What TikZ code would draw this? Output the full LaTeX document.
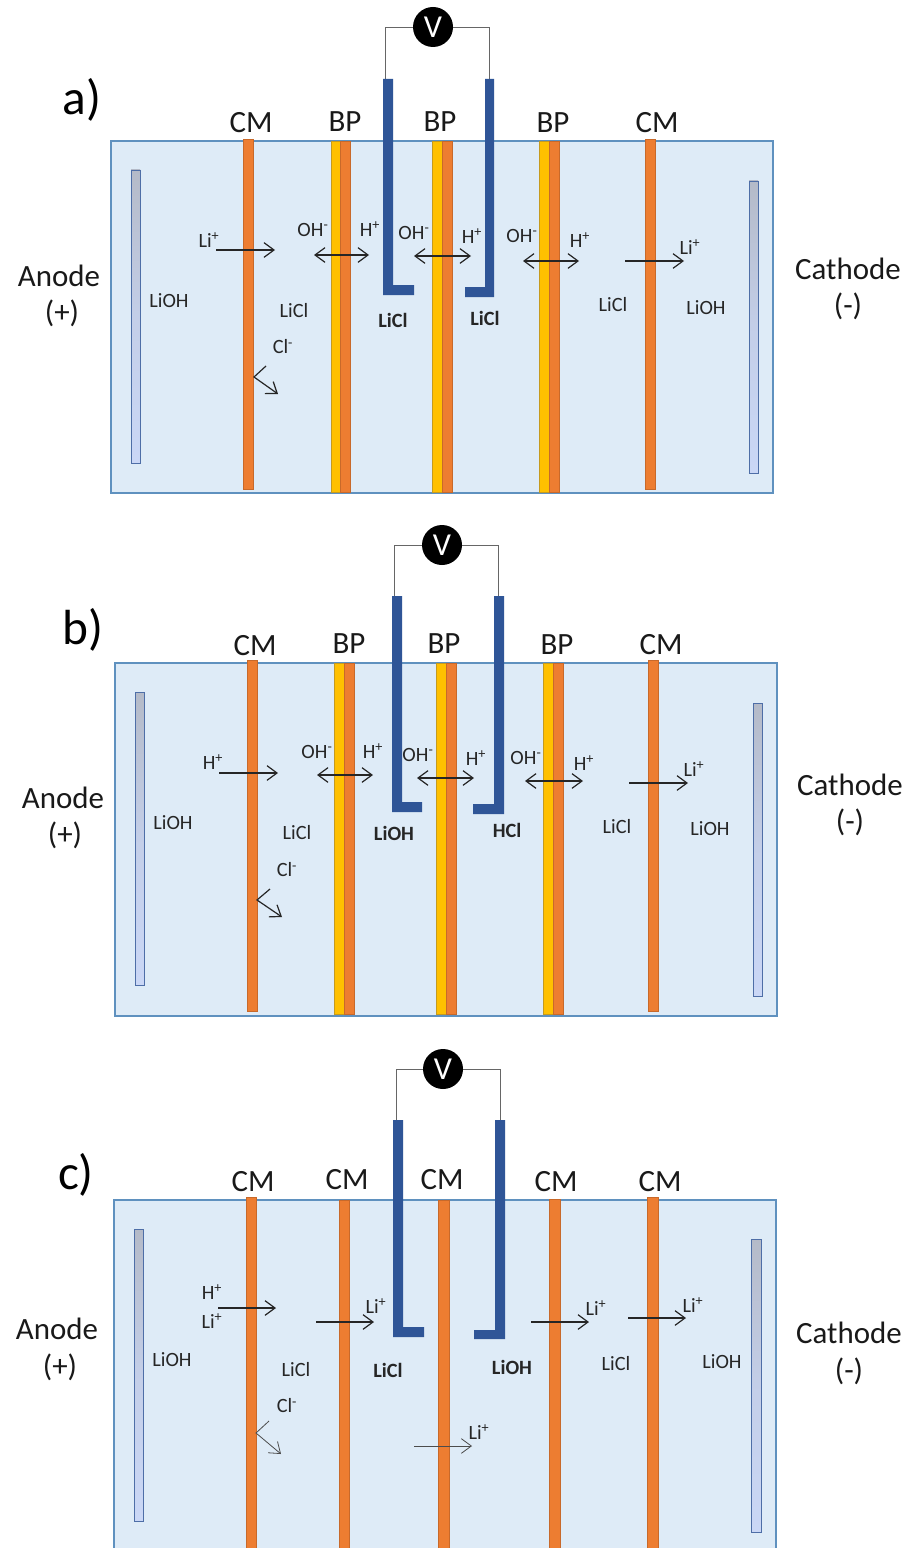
\documentclass[tikz,border=0pt]{standalone}
\usepackage{fontspec}
\setmainfont{Carlito}
\usetikzlibrary{arrows.meta}
\definecolor{bath}{HTML}{DEEBF7}
\definecolor{bathedge}{HTML}{5F91BF}
\definecolor{orangem}{HTML}{ED7D31}
\definecolor{orangeedge}{HTML}{C8692A}
\definecolor{yellowm}{HTML}{FFC000}
\definecolor{yellowedge}{HTML}{C59A1E}
\definecolor{elec}{HTML}{2F5597}
\definecolor{platetop}{HTML}{B4BAC8}
\definecolor{platebot}{HTML}{CAD7F6}
\newcounter{tn}
\newcounter{an}
\tikzset{
  bathbox/.style={fill=bath,draw=bathedge,line width=0.9pt},
  orangebar/.style={fill=orangem,draw=orangeedge,line width=0.6pt},
  yellowbar/.style={fill=yellowm,draw=yellowedge,line width=0.6pt},
  electrode/.style={fill=elec,draw=none},
  plate/.style={top color=platetop,bottom color=platebot,middle color=platebot!70!platetop,draw=elec!85!white,line width=0.7pt},
  wire/.style={draw=black!60,line width=0.7pt},
  meter/.style={circle,fill=black,text=white,minimum size=30pt,inner sep=0pt,font=\fontsize{24}{24}\selectfont},
  ionarrow/.style={-{Straight Barb[length=7.5pt,width=11pt,line width=0.9pt]},line width=0.9pt,draw=black!85},
  biarrow/.style={{Straight Barb[length=7.5pt,width=11pt,line width=0.9pt]}-{Straight Barb[length=7.5pt,width=11pt,line width=0.9pt]},line width=0.9pt,draw=black!85},
  thinarrow/.style={-{Straight Barb[length=7.5pt,width=11pt,line width=0.6pt]},line width=0.6pt,draw=black!70},
  smalltext/.style={inner sep=0pt,text=black!85,font=\fontsize{15.2}{15.2}\selectfont},
  boldtext/.style={inner sep=0pt,text=black!85,font=\fontsize{15.2}{15.2}\selectfont\bfseries},
  tagtext/.style={inner sep=0pt,text=black!90,font=\fontsize{23.2}{23.2}\selectfont},
  paneltext/.style={inner sep=0pt,text=black,font=\fontsize{37}{37}\selectfont},
}
% text node with an automatic name
\newcommand{\lab}[4]{\stepcounter{tn}\node[#1] (t\arabic{tn}) at (#2,#3) {#4};}
% straight arrow between two named coordinates
\newcommand{\arr}[5]{\stepcounter{an}%
  \coordinate (as\arabic{an}) at (#2,#3);\coordinate (ae\arabic{an}) at (#4,#5);%
  \draw[#1] (as\arabic{an}) -- (ae\arabic{an});}
% bent arrow through a corner
\newcommand{\bentarr}[7]{\stepcounter{an}%
  \coordinate (as\arabic{an}) at (#2,#3);\coordinate (ac\arabic{an}) at (#4,#5);\coordinate (ae\arabic{an}) at (#6,#7);%
  \draw[#1] (as\arabic{an}) -- (ac\arabic{an}) -- (ae\arabic{an});}
% voltmeter with two wires
\newcommand{\volt}[5]{% name, cx, cy, left x, right x
  \coordinate (#1L) at (#4,#3+54);\coordinate (#1R) at (#5,#3+54);
  \node[meter] (#1) at (#2,#3) {V};
  \draw[wire] (#1.west) -| (#1L);
  \draw[wire] (#1.east) -| (#1R);}
\newcommand{\Lip}{Li\textsuperscript{+}}
\newcommand{\Hp}{H\textsuperscript{+}}
\newcommand{\OHm}{OH\textsuperscript{-}}
\newcommand{\Clm}{Cl\textsuperscript{-}}
\begin{document}
\begin{tikzpicture}[x=0.75pt,y=-0.75pt]
\clip (0,0) rectangle (910,1548);
\fill[white] (0,0) rectangle (910,1548);

%% ---------- panel a ----------
\draw[bathbox] (111,141) rectangle (773,493);
\shadedraw[plate] (131,170) rectangle (140,463);
\shadedraw[plate] (749,181) rectangle (758,473);
\draw[orangebar] (243,139) rectangle (253,489);
\draw[yellowbar] (331,141) rectangle (340,492);
\draw[orangebar] (340,141) rectangle (350,492);
\draw[yellowbar] (432,141) rectangle (442,492);
\draw[orangebar] (442,141) rectangle (452,492);
\draw[yellowbar] (539,141) rectangle (549,492);
\draw[orangebar] (549,141) rectangle (559,492);
\draw[orangebar] (645,139) rectangle (655,489);
\volt{Va}{433}{27}{385.5}{489.5}
\fill[electrode] (383,79) -- (393,79) -- (393,285) -- (414,285) -- (414,295) -- (383,295) -- cycle;
\fill[electrode] (485,79) -- (494,79) -- (494,297) -- (465,297) -- (465,287) -- (485,287) -- cycle;
\arr{ionarrow}{216}{250}{275}{250}
\arr{biarrow}{314}{255}{369}{255}
\arr{biarrow}{414}{256}{471}{256}
\arr{biarrow}{523}{261}{579}{261}
\arr{ionarrow}{625}{261}{684}{261}
\bentarr{ionarrow}{266}{366}{254}{377}{278}{394}
\lab{smalltext}{209}{240}{\Lip}
\lab{smalltext}{313}{230}{\OHm}
\lab{smalltext}{370}{229}{\Hp}
\lab{smalltext}{414}{233}{\OHm}
\lab{smalltext}{472}{236}{\Hp}
\lab{smalltext}{522}{236}{\OHm}
\lab{smalltext}{580}{240}{\Hp}
\lab{smalltext}{690}{247}{\Lip}
\lab{smalltext}{169}{301}{LiOH}
\lab{smalltext}{294}{311}{LiCl}
\lab{smalltext}{283}{347}{\Clm}
\lab{boldtext}{393}{320}{LiCl}
\lab{boldtext}{485}{318}{LiCl}
\lab{smalltext}{613}{305}{LiCl}
\lab{smalltext}{706}{308}{LiOH}
\lab{tagtext}{251}{123}{CM}
\lab{tagtext}{345}{122}{BP}
\lab{tagtext}{440}{122}{BP}
\lab{tagtext}{553}{123}{BP}
\lab{tagtext}{657}{123}{CM}
\lab{tagtext}{59}{276}{Anode}
\lab{tagtext}{62}{313}{(+)}
\lab{tagtext}{848}{269}{Cathode}
\lab{tagtext}{848}{306}{(-)}
\lab{paneltext}{82}{100}{a)}

%% ---------- panel b ----------
\draw[bathbox] (115,663) rectangle (777,1016);
\shadedraw[plate] (135,692) rectangle (144,985);
\shadedraw[plate] (753,703) rectangle (762,996);
\draw[orangebar] (247,660) rectangle (257,1011);
\draw[yellowbar] (334,663) rectangle (344,1014);
\draw[orangebar] (344,663) rectangle (354,1014);
\draw[yellowbar] (436,663) rectangle (446,1014);
\draw[orangebar] (446,663) rectangle (456,1014);
\draw[yellowbar] (543,663) rectangle (553,1014);
\draw[orangebar] (553,663) rectangle (563,1014);
\draw[orangebar] (648,660) rectangle (658,1011);
\volt{Vb}{442}{545}{394}{498}
\fill[electrode] (392,596) -- (402,596) -- (402,802) -- (422,802) -- (422,812) -- (392,812) -- cycle;
\fill[electrode] (494,596) -- (504,596) -- (504,814) -- (473,814) -- (473,804) -- (494,804) -- cycle;
\arr{ionarrow}{219}{773}{278}{773}
\arr{biarrow}{317}{775}{373}{775}
\arr{biarrow}{417}{778}{474}{778}
\arr{biarrow}{525}{781}{583}{781}
\arr{ionarrow}{629}{783}{688}{783}
\bentarr{ionarrow}{270}{889}{257}{900}{282}{917}
\lab{smalltext}{213}{762}{\Hp}
\lab{smalltext}{317}{752}{\OHm}
\lab{smalltext}{373}{751}{\Hp}
\lab{smalltext}{418}{755}{\OHm}
\lab{smalltext}{476}{758}{\Hp}
\lab{smalltext}{526}{758}{\OHm}
\lab{smalltext}{584}{763}{\Hp}
\lab{smalltext}{694}{769}{\Lip}
\lab{smalltext}{173}{823}{LiOH}
\lab{smalltext}{297}{833}{LiCl}
\lab{smalltext}{287}{870}{\Clm}
\lab{boldtext}{394}{833}{LiOH}
\lab{boldtext}{507}{830}{HCl}
\lab{smalltext}{617}{827}{LiCl}
\lab{smalltext}{710}{829}{LiOH}
\lab{tagtext}{255}{646}{CM}
\lab{tagtext}{349}{644}{BP}
\lab{tagtext}{444}{644}{BP}
\lab{tagtext}{557}{645}{BP}
\lab{tagtext}{661}{645}{CM}
\lab{tagtext}{63}{798}{Anode}
\lab{tagtext}{65}{835}{(+)}
\lab{tagtext}{850}{785}{Cathode}
\lab{tagtext}{850}{822}{(-)}
\lab{paneltext}{83}{630}{b)}

%% ---------- panel c ----------
\draw[bathbox] (114,1200) rectangle (776,1570);
\shadedraw[plate] (134,1229) rectangle (143,1521);
\shadedraw[plate] (751,1239) rectangle (761,1532);
\draw[orangebar] (246,1197) rectangle (256,1570);
\draw[orangebar] (339,1200) rectangle (349,1570);
\draw[orangebar] (438,1200) rectangle (449,1570);
\draw[orangebar] (549,1199) rectangle (560,1570);
\draw[orangebar] (647,1197) rectangle (658,1570);
\volt{Vc}{443}{1069}{396}{500}
\fill[electrode] (393,1120) -- (403,1120) -- (403,1327) -- (424,1327) -- (424,1337) -- (393,1337) -- cycle;
\fill[electrode] (495,1120) -- (505,1120) -- (505,1339) -- (474,1339) -- (474,1330) -- (495,1330) -- cycle;
\arr{ionarrow}{218}{1308}{276}{1308}
\arr{ionarrow}{316}{1322}{374}{1322}
\arr{thinarrow}{414}{1446}{472}{1446}
\arr{ionarrow}{531}{1322}{589}{1322}
\arr{ionarrow}{628}{1318}{686}{1318}
\bentarr{thinarrow}{269}{1421}{256}{1433}{281}{1454}
\lab{smalltext}{212}{1292}{\Hp}
\lab{smalltext}{212}{1321}{\Lip}
\lab{smalltext}{376}{1306}{\Lip}
\lab{smalltext}{596}{1308}{\Lip}
\lab{smalltext}{693}{1305}{\Lip}
\lab{smalltext}{479}{1432}{\Lip}
\lab{smalltext}{172}{1360}{LiOH}
\lab{smalltext}{296}{1370}{LiCl}
\lab{smalltext}{287}{1406}{\Clm}
\lab{boldtext}{388}{1370}{LiCl}
\lab{boldtext}{512}{1367}{LiOH}
\lab{smalltext}{616}{1364}{LiCl}
\lab{smalltext}{722}{1362}{LiOH}
\lab{tagtext}{253}{1182}{CM}
\lab{tagtext}{347}{1180}{CM}
\lab{tagtext}{442}{1180}{CM}
\lab{tagtext}{556}{1182}{CM}
\lab{tagtext}{660}{1182}{CM}
\lab{tagtext}{57}{1329}{Anode}
\lab{tagtext}{60}{1367}{(+)}
\lab{tagtext}{849}{1333}{Cathode}
\lab{tagtext}{849}{1371}{(-)}
\lab{paneltext}{76}{1175}{c)}
\end{tikzpicture}
\end{document}
